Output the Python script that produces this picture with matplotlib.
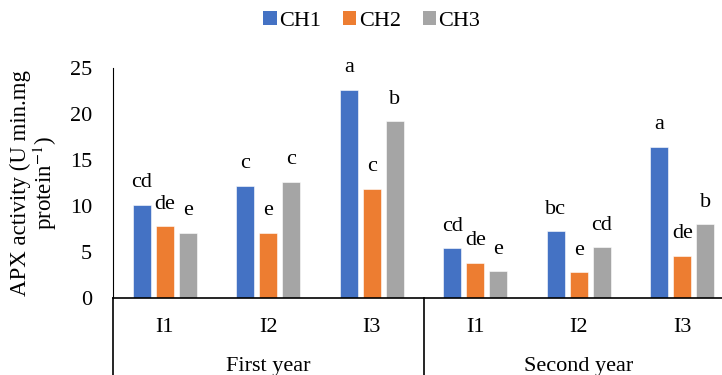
import numpy as np
import matplotlib
matplotlib.use('Agg')
import matplotlib.pyplot as plt
from matplotlib.patches import Patch

plt.rcParams['font.family'] = ['Liberation Serif', 'DejaVu Serif']
plt.rcParams['mathtext.fontset'] = 'stix'

# Datos
categories = ['I1', 'I2', 'I3', 'I1', 'I2', 'I3']
years = ['First year', 'Second year']
series_names = ['CH1', 'CH2', 'CH3']
ch1 = [10.1, 12.2, 22.6, 5.4, 7.25, 16.4]
ch2 = [7.8, 7.1, 11.9, 3.8, 2.8, 4.6]
ch3 = [7.1, 12.6, 19.2, 2.9, 5.5, 8.0]
letters_ch1 = ['cd', 'c', 'a', 'cd', 'bc', 'a']
letters_ch2 = ['de', 'e', 'c', 'de', 'e', 'de']
letters_ch3 = ['e', 'c', 'b', 'e', 'cd', 'b']
colors = ['#4472C4', '#ED7D31', '#A5A5A5']

fs = 16

fig = plt.figure(figsize=(7.22, 3.75), dpi=100)
ax = fig.add_axes([113/722, 1 - 298/375, 621/722, 230/375])

x = np.arange(len(categories))
width = 0.174
offset = 0.222
series = [ch1, ch2, ch3]
letters = [letters_ch1, letters_ch2, letters_ch3]
for i, (vals, lab) in enumerate(zip(series, letters)):
    xs = x + (i - 1) * offset
    ax.bar(xs, vals, width, color=colors[i], edgecolor='white', linewidth=0.4, zorder=2)
    for xi, v, t in zip(xs, vals, lab):
        ax.annotate(t, (xi, v), xytext=(0, 16), textcoords='offset points',
                    ha='center', va='center', fontsize=fs)

ax.set_xlim(-0.5, len(categories) - 0.5)
ax.set_ylim(0, 25)
ax.set_yticks([0, 5, 10, 15, 20, 25])
ax.tick_params(axis='y', length=0, labelsize=fs, pad=15)
ax.set_xticks([])
for s in ['top', 'right']:
    ax.spines[s].set_visible(False)
ax.spines['left'].set_color('black')
ax.spines['bottom'].set_color('black')
ax.spines['bottom'].set_linewidth(1.2)

# Eje de categorias en dos niveles
trans = ax.get_xaxis_transform()
for xi, c in zip(x, categories):
    ax.text(xi, -0.13, c, transform=trans, ha='center', va='center', fontsize=fs)
ax.text(1, -0.30, years[0], transform=trans, ha='center', va='center', fontsize=fs)
ax.text(4, -0.30, years[1], transform=trans, ha='center', va='center', fontsize=fs)
for xv in [-0.5, 2.5]:
    ax.plot([xv, xv], [0, -0.45], transform=trans, color='black', lw=1.2, clip_on=False)

ax.set_ylabel('APX activity (U min.mg\nprotein$^{-1}$)', fontsize=16.5, linespacing=1.0, labelpad=8)

handles = [Patch(facecolor=c) for c in colors]
fig.legend(handles, series_names, loc='center', bbox_to_anchor=(0.515, 1 - 21/375), ncol=3,
           frameon=False, fontsize=fs, handlelength=0.6, handleheight=0.6,
           handletextpad=0.1, columnspacing=1.0)

fig.savefig('out.png', dpi=100)
